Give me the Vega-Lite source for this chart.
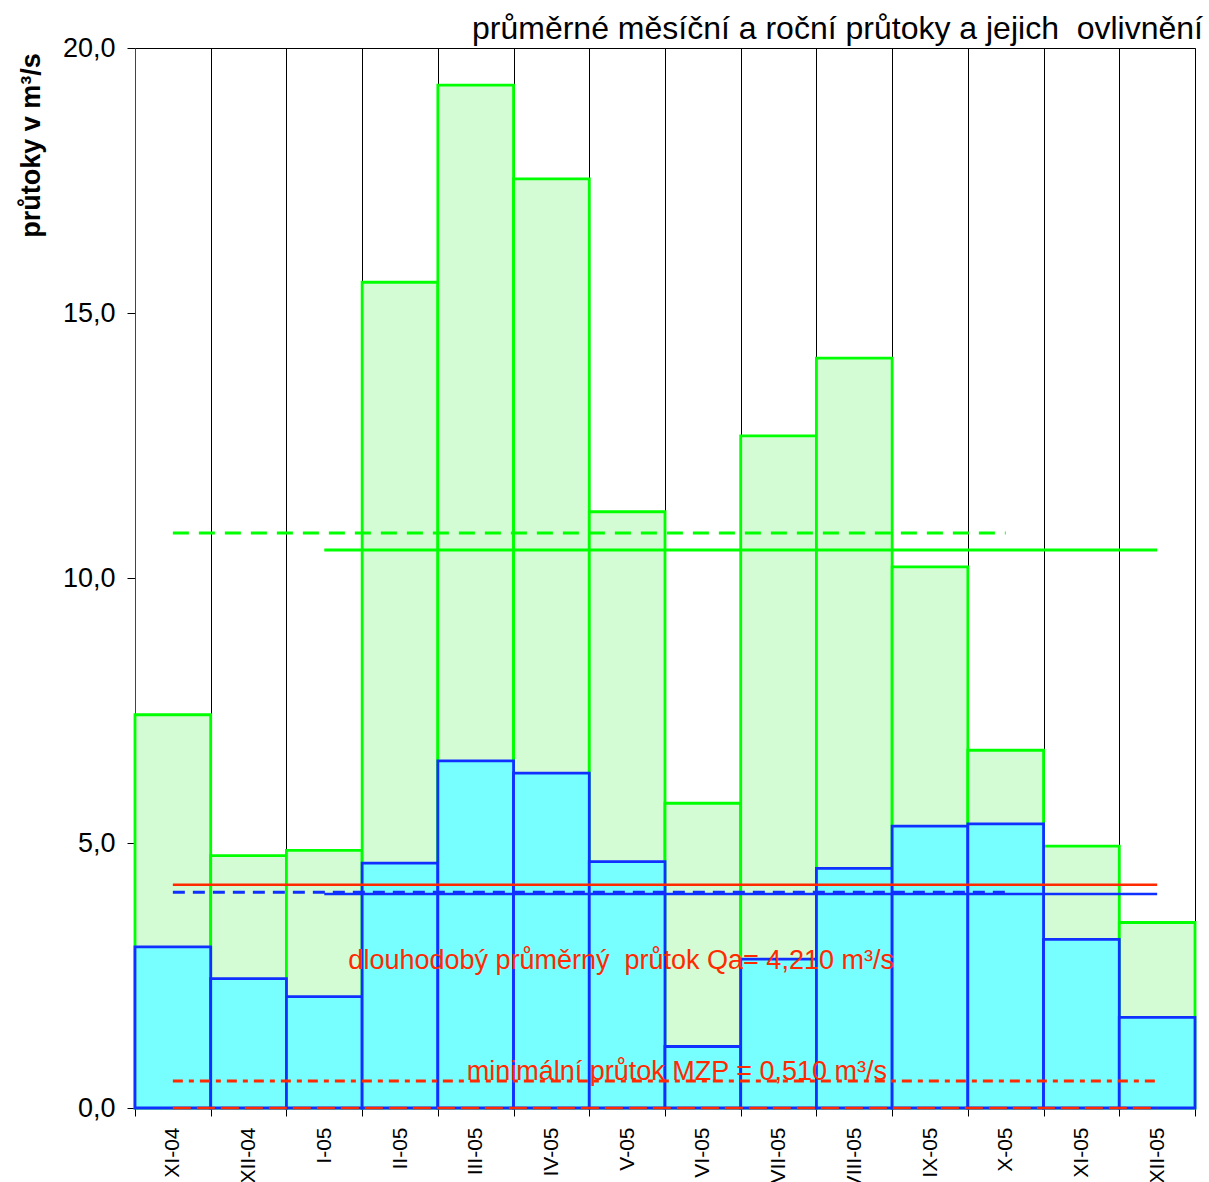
{
  "$schema": "https://vega.github.io/schema/vega-lite/v6.json",
  "width": 1060,
  "height": 1060,
  "autosize": "none",
  "padding": {"left": 135, "top": 48, "right": 14, "bottom": 74},
  "background": "white",
  "config": {
    "font": "Liberation Sans",
    "view": {"stroke": "black", "strokeWidth": 1}
  },
  "title": {
    "text": "průměrné měsíční a roční průtoky a jejich \u00a0ovlivnění",
    "anchor": "end",
    "frame": "group",
    "fontSize": 32,
    "fontWeight": "normal",
    "color": "black",
    "font": "Liberation Sans",
    "baseline": "alphabetic",
    "offset": 9,
    "dx": 8,
    "dy": 46
  },
  "datasets": {
    "flows": [
      {"month": "XI-04", "natural": 7.42, "measured": 3.04},
      {"month": "XII-04", "natural": 4.76, "measured": 2.44},
      {"month": "I-05", "natural": 4.86, "measured": 2.10},
      {"month": "II-05", "natural": 15.58, "measured": 4.62},
      {"month": "III-05", "natural": 19.30, "measured": 6.55},
      {"month": "IV-05", "natural": 17.53, "measured": 6.32},
      {"month": "V-05", "natural": 11.25, "measured": 4.65},
      {"month": "VI-05", "natural": 5.75, "measured": 1.16},
      {"month": "VII-05", "natural": 12.68, "measured": 2.81},
      {"month": "VIII-05", "natural": 14.15, "measured": 4.52},
      {"month": "IX-05", "natural": 10.21, "measured": 5.32},
      {"month": "X-05", "natural": 6.75, "measured": 5.36},
      {"month": "XI-05", "natural": 4.94, "measured": 3.18},
      {"month": "XII-05", "natural": 3.50, "measured": 1.71}
    ],
    "levels": [
      {"series": "gd", "month": "XI-04", "value": 10.85},
      {"series": "gd", "month": "X-05", "value": 10.85},
      {"series": "gs", "month": "I-05", "value": 10.53},
      {"series": "gs", "month": "XII-05", "value": 10.53},
      {"series": "rs", "month": "XI-04", "value": 4.21},
      {"series": "rs", "month": "XII-05", "value": 4.21},
      {"series": "bd", "month": "XI-04", "value": 4.07},
      {"series": "bd", "month": "X-05", "value": 4.07},
      {"series": "bs", "month": "I-05", "value": 4.04},
      {"series": "bs", "month": "XII-05", "value": 4.04},
      {"series": "rdot", "month": "XI-04", "value": 0.51},
      {"series": "rdot", "month": "XII-05", "value": 0.51},
      {"series": "rzero", "month": "XI-04", "value": 0},
      {"series": "rzero", "month": "XII-05", "value": 0}
    ],
    "notes": [
      {"note": "qa", "month": "V-05", "value": 2.62, "label": "dlouhodobý průměrný \u00a0průtok Qa= 4,210 m³/s"},
      {"note": "mzp", "month": "VI-05", "value": 0.53, "label": "minimální průtok MZP = 0,510 m³/s"}
    ]
  },
  "layer": [
    {
      "data": {"name": "flows"},
      "mark": {"type": "bar", "fill": "#d4fcd4", "stroke": "#00ff00", "strokeWidth": 2.8},
      "encoding": {
        "x": {
          "field": "month", "type": "ordinal",
          "scale": {"domain": ["XI-04","XII-04","I-05","II-05","III-05","IV-05","V-05","VI-05","VII-05","VIII-05","IX-05","X-05","XI-05","XII-05"], "paddingInner": 0, "paddingOuter": 0},
          "axis": {
            "title": null, "tickBand": "extent", "grid": true, "gridColor": "black", "gridWidth": 1,
            "tickSize": 8, "tickColor": "black", "domainColor": "black",
            "labelAngle": 270, "labelAlign": "right", "labelBaseline": "middle",
            "labelFontSize": 21, "labelPadding": 11, "labelColor": "black"
          }
        },
        "y": {
          "field": "natural", "type": "quantitative",
          "scale": {"domain": [0, 20], "nice": false},
          "axis": {
            "values": [0, 5, 10, 15, 20],
            "labelExpr": "replace(format(datum.value, '.1f'), '.', ',')",
            "grid": false, "tickSize": 8, "tickColor": "black", "domainColor": "#444444",
            "labelFontSize": 27, "labelPadding": 12, "labelColor": "black",
            "title": "průtoky v m³/s", "titleFontSize": 27, "titleFontWeight": "bold", "titleColor": "black",
            "titleAngle": 270, "titleAlign": "center", "titleBaseline": "middle",
            "titleX": -104, "titleY": 97
          }
        }
      }
    },
    {
      "data": {"name": "flows"},
      "mark": {"type": "bar", "fill": "#77ffff", "stroke": "#1030ff", "strokeWidth": 2.8},
      "encoding": {
        "x": {"field": "month", "type": "ordinal"},
        "y": {"field": "measured", "type": "quantitative"}
      }
    },
    {
      "data": {"name": "levels"},
      "transform": [{"filter": "datum.series == 'gd'"}],
      "mark": {"type": "line", "color": "#00ff00", "strokeWidth": 3, "strokeDash": [16, 10]},
      "encoding": {"x": {"field": "month", "type": "ordinal"}, "y": {"field": "value", "type": "quantitative"}}
    },
    {
      "data": {"name": "levels"},
      "transform": [{"filter": "datum.series == 'gs'"}],
      "mark": {"type": "line", "color": "#00ff00", "strokeWidth": 3},
      "encoding": {"x": {"field": "month", "type": "ordinal"}, "y": {"field": "value", "type": "quantitative"}}
    },
    {
      "data": {"name": "levels"},
      "transform": [{"filter": "datum.series == 'bs'"}],
      "mark": {"type": "line", "color": "#1030ff", "strokeWidth": 2.5},
      "encoding": {"x": {"field": "month", "type": "ordinal"}, "y": {"field": "value", "type": "quantitative"}}
    },
    {
      "data": {"name": "levels"},
      "transform": [{"filter": "datum.series == 'bd'"}],
      "mark": {"type": "line", "color": "#1030ff", "strokeWidth": 3, "strokeDash": [12, 8]},
      "encoding": {"x": {"field": "month", "type": "ordinal"}, "y": {"field": "value", "type": "quantitative"}}
    },
    {
      "data": {"name": "levels"},
      "transform": [{"filter": "datum.series == 'rs'"}],
      "mark": {"type": "line", "color": "#ff2a00", "strokeWidth": 2.5},
      "encoding": {"x": {"field": "month", "type": "ordinal"}, "y": {"field": "value", "type": "quantitative"}}
    },
    {
      "data": {"name": "levels"},
      "transform": [{"filter": "datum.series == 'rdot'"}],
      "mark": {"type": "line", "color": "#ff2a00", "strokeWidth": 3, "strokeDash": [10, 6, 5, 6]},
      "encoding": {"x": {"field": "month", "type": "ordinal"}, "y": {"field": "value", "type": "quantitative"}}
    },
    {
      "data": {"name": "levels"},
      "transform": [{"filter": "datum.series == 'rzero'"}],
      "mark": {"type": "line", "color": "#ff2a00", "strokeWidth": 2.5, "strokeDash": [18, 6]},
      "encoding": {"x": {"field": "month", "type": "ordinal"}, "y": {"field": "value", "type": "quantitative"}}
    },
    {
      "data": {"name": "notes"},
      "transform": [{"filter": "datum.note == 'qa'"}],
      "mark": {"type": "text", "color": "#ff2a00", "fontSize": 27, "align": "center", "baseline": "alphabetic", "dx": -6},
      "encoding": {"x": {"field": "month", "type": "ordinal"}, "y": {"field": "value", "type": "quantitative"}, "text": {"field": "label"}}
    },
    {
      "data": {"name": "notes"},
      "transform": [{"filter": "datum.note == 'mzp'"}],
      "mark": {"type": "text", "color": "#ff2a00", "fontSize": 27, "align": "center", "baseline": "alphabetic", "dx": -26},
      "encoding": {"x": {"field": "month", "type": "ordinal"}, "y": {"field": "value", "type": "quantitative"}, "text": {"field": "label"}}
    }
  ]
}
